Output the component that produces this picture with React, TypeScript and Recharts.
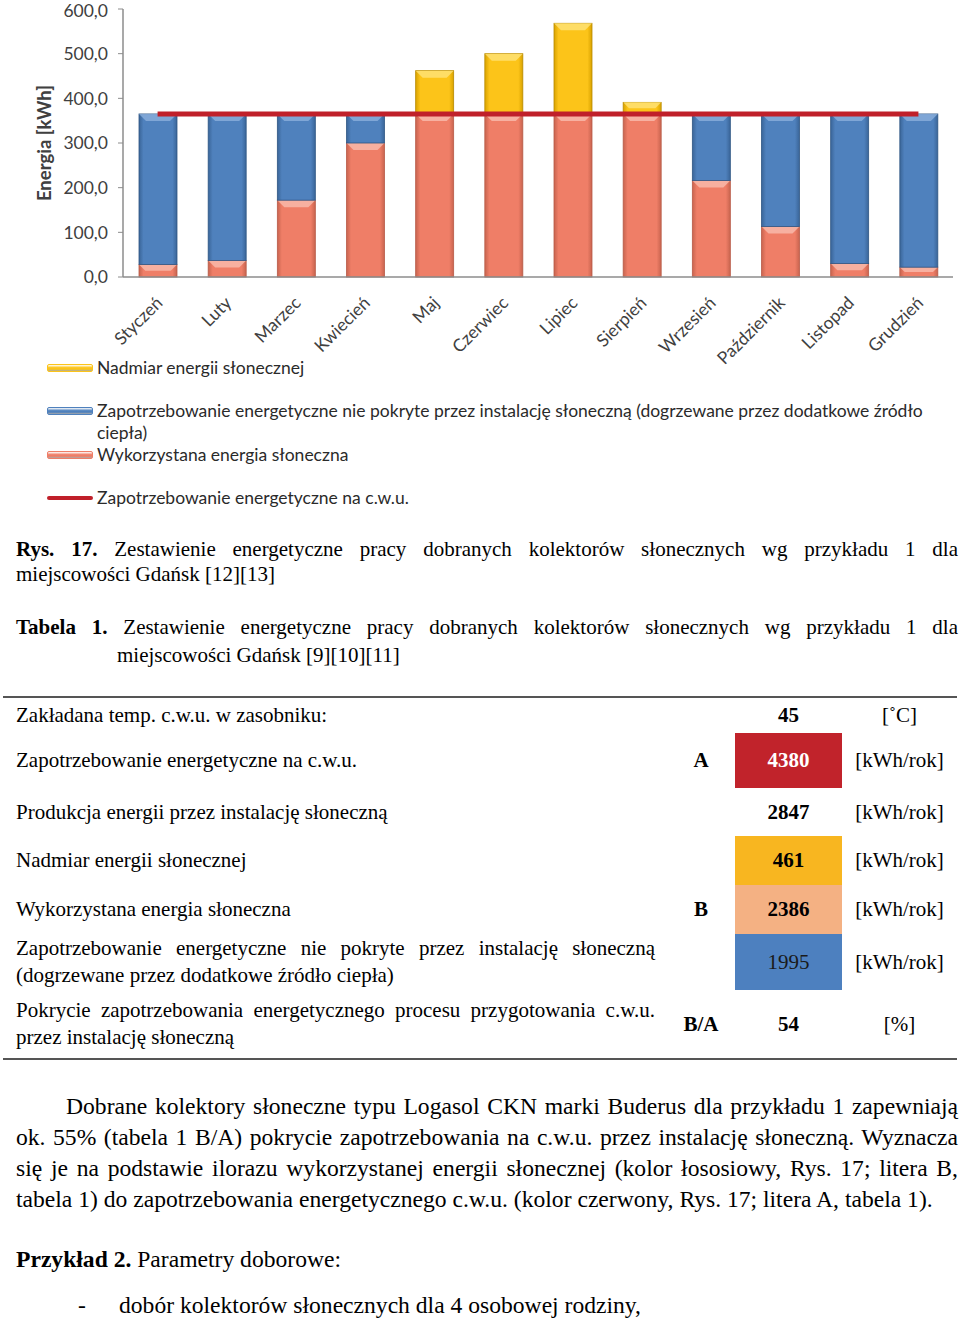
import { ComposedChart, Bar, Line, XAxis, YAxis } from 'recharts'

const months = ['Styczeń', 'Luty', 'Marzec', 'Kwiecień', 'Maj', 'Czerwiec', 'Lipiec', 'Sierpień', 'Wrzesień', 'Październik', 'Listopad', 'Grudzień']
const usedSolar = [28, 37, 172, 300, 365, 365, 365, 365, 216, 113, 30, 22]
const uncovered = [337, 328, 193, 65, 0, 0, 0, 0, 149, 252, 335, 343]
const excessSolar = [0, 0, 0, 0, 97, 135, 203, 26, 0, 0, 0, 0]
const demand = [365, 365, 365, 365, 365, 365, 365, 365, 365, 365, 365, 365]
const yTicks = [0, 100, 200, 300, 400, 500, 600]

const legendItems = [
  { key: 'excess', label: 'Nadmiar energii słonecznej', color: '#fcc419', kind: 'bar' },
  { key: 'uncovered', label: 'Zapotrzebowanie energetyczne nie pokryte przez instalację słoneczną (dogrzewane przez dodatkowe źródło ciepła)', color: '#4f81bd', kind: 'bar' },
  { key: 'used', label: 'Wykorzystana energia słoneczna', color: '#ef7e67', kind: 'bar' },
  { key: 'demand', label: 'Zapotrzebowanie energetyczne na c.w.u.', color: '#c0202a', kind: 'line' },
]

const tableRows = [
  { label: 'Zakładana temp. c.w.u. w zasobniku:', tag: '', value: '45', unit: '[˚C]', bg: '', fg: '#000', bold: true, h: 35 },
  { label: 'Zapotrzebowanie energetyczne na c.w.u.', tag: 'A', value: '4380', unit: '[kWh/rok]', bg: '#c1232b', fg: '#fff', bold: true, h: 55 },
  { label: 'Produkcja energii przez instalację słoneczną', tag: '', value: '2847', unit: '[kWh/rok]', bg: '', fg: '#000', bold: true, h: 48 },
  { label: 'Nadmiar energii słonecznej', tag: '', value: '461', unit: '[kWh/rok]', bg: '#f8b620', fg: '#000', bold: true, h: 49 },
  { label: 'Wykorzystana energia słoneczna', tag: 'B', value: '2386', unit: '[kWh/rok]', bg: '#f4b183', fg: '#000', bold: true, h: 49 },
  { label: 'Zapotrzebowanie energetyczne nie pokryte przez instalację słoneczną (dogrzewane przez dodatkowe źródło ciepła)', tag: '', value: '1995', unit: '[kWh/rok]', bg: '#4d80bf', fg: '#1a1a1a', bold: false, h: 56 },
  { label: 'Pokrycie zapotrzebowania energetycznego procesu przygotowania c.w.u. przez instalację słoneczną', tag: 'B/A', value: '54', unit: '[%]', bg: '', fg: '#000', bold: true, h: 68 },
]

const paragraphLines = [
  'Dobrane kolektory słoneczne typu Logasol CKN marki Buderus dla przykładu 1 zapewniają',
  'ok. 55% (tabela 1 B/A) pokrycie zapotrzebowania na c.w.u. przez instalację słoneczną. Wyznacza',
  'się je na podstawie ilorazu wykorzystanej energii słonecznej (kolor łososiowy, Rys. 17; litera B,',
  'tabela 1) do zapotrzebowania energetycznego c.w.u. (kolor czerwony, Rys. 17; litera A, tabela 1).',
]

const data = months.map((month, i) => ({
  month,
  used: usedSolar[i],
  uncovered: uncovered[i],
  excess: excessSolar[i],
  demand: demand[i],
}))

const chartFont = 'Lato, "Open Sans", sans-serif'
const serif = '"Liberation Serif", "Times New Roman", serif'

// bevelled bar like the old Excel style
function bevelBar(gradId: string, light: string, edge: string) {
  return (props: any) => {
    const { x, y, width, height } = props
    if (!height || height <= 0.5) return <g />
    const b = Math.min(7, height / 2)
    return (
      <g>
        <rect x={x} y={y} width={width} height={height} fill={`url(#${gradId})`} stroke={edge} strokeWidth={0.8} />
        <polygon
          points={`${x},${y} ${x + width},${y} ${x + width - b},${y + b} ${x + b},${y + b}`}
          fill={light}
          opacity={0.75}
        />
      </g>
    )
  }
}

function MonthTick({ x, y, payload }: any) {
  return (
    <g transform={`translate(${x + 6},${y + 19})`}>
      <text textAnchor="end" transform="rotate(-45)" fontSize={17.5} fill="#404040" fontFamily={chartFont}>
        {payload.value}
      </text>
    </g>
  )
}

function grad(id: string, edge: string, mid: string) {
  return (
    <linearGradient id={id} x1="0" y1="0" x2="1" y2="0">
      <stop offset="0%" stopColor={edge} />
      <stop offset="12%" stopColor={mid} />
      <stop offset="88%" stopColor={mid} />
      <stop offset="100%" stopColor={edge} />
    </linearGradient>
  )
}

function LegendIcon({ color, kind }: { color: string; kind: string }) {
  if (kind === 'line') {
    return <div style={{ width: 46, height: 4, background: color, borderRadius: 2, marginTop: 9, flex: 'none' }} />
  }
  return (
    <div
      style={{
        width: 46,
        height: 8,
        marginTop: 7,
        flex: 'none',
        borderRadius: 2,
        background: `linear-gradient(to bottom, #ffffffaa 0%, ${color} 45%, ${color} 70%, #00000055 100%)`,
        border: `1px solid ${color}`,
        boxSizing: 'border-box',
      }}
    />
  )
}

const justLine = { textAlign: 'justify' as const, textAlignLast: 'justify' as const, whiteSpace: 'nowrap' as const }

export default function App() {
  return (
    <div style={{ position: 'relative', width: 960, height: 1318, background: '#fff', fontFamily: serif, color: '#000' }}>
      <style>{'body{margin:0}'}</style>
      <div style={{ position: 'absolute', left: 0, top: 0 }}>
        <ComposedChart width={960} height={376} data={data} margin={{ top: 9, right: 7, bottom: 0, left: 0 }} barSize={38}>
          <defs>
            {grad('gBlue', '#3a6598', '#4f81bd')}
            {grad('gSalmon', '#c8644f', '#ef7e67')}
            {grad('gYellow', '#d9a300', '#fcc419')}
          </defs>
          <XAxis
            dataKey="month"
            interval={0}
            tick={<MonthTick />}
            tickLine={false}
            axisLine={{ stroke: '#8c8c8c', strokeWidth: 1.5 }}
            height={99}
          />
          <YAxis
            domain={[0, 600]}
            ticks={yTicks}
            width={123}
            tickSize={5}
            tickMargin={10}
            tickFormatter={(v: number) => v.toFixed(1).replace('.', ',')}
            tick={{ fontSize: 17.5, fill: '#404040', fontFamily: chartFont }}
            axisLine={{ stroke: '#8c8c8c', strokeWidth: 1.5 }}
            tickLine={{ stroke: '#8c8c8c' }}
            label={({ viewBox }: any) => (
              <text
                x={viewBox.x + 51}
                y={viewBox.y + viewBox.height / 2}
                transform={`rotate(-90, ${viewBox.x + 51}, ${viewBox.y + viewBox.height / 2})`}
                textAnchor="middle"
                fontSize={18.5}
                fontWeight="bold"
                fill="#404040"
                fontFamily={chartFont}
              >
                Energia [kWh]
              </text>
            )}
          />
          <Bar dataKey="used" stackId="e" shape={bevelBar('gSalmon', '#f9c2b3', '#b85a47')} isAnimationActive={false} />
          <Bar dataKey="uncovered" stackId="e" shape={bevelBar('gBlue', '#8fb3df', '#2f5684')} isAnimationActive={false} />
          <Bar dataKey="excess" stackId="e" shape={bevelBar('gYellow', '#ffe680', '#b88a00')} isAnimationActive={false} />
          <Line dataKey="demand" type="linear" stroke="#c0202a" strokeWidth={5} dot={false} activeDot={false} isAnimationActive={false} />
        </ComposedChart>
      </div>

      <div style={{ position: 'absolute', left: 47, top: 357, width: 900, fontFamily: chartFont, fontSize: 17.5, color: '#2a2a2a', lineHeight: '22px' }}>
        {legendItems.map((it, i) => (
          <div key={it.key} style={{ display: 'flex', marginTop: i === 1 || i === 3 ? 21 : 0 }}>
            <LegendIcon color={it.color} kind={it.kind} />
            <div style={{ marginLeft: 4, width: 850 }}>{it.label}</div>
          </div>
        ))}
      </div>

      <div style={{ position: 'absolute', left: 16, top: 537, width: 942, fontSize: 21, lineHeight: '25px' }}>
        <div style={justLine}>
          <b>Rys. 17.</b> Zestawienie energetyczne pracy dobranych kolektorów słonecznych wg przykładu 1 dla
        </div>
        <div>miejscowości Gdańsk [12][13]</div>
      </div>

      <div
        style={{
          position: 'absolute',
          left: 16,
          top: 613,
          width: 942,
          boxSizing: 'border-box',
          paddingLeft: 101,
          textIndent: -101,
          fontSize: 21,
          lineHeight: '28px',
          textAlign: 'justify',
        }}
      >
        <b>Tabela 1.</b> Zestawienie energetyczne pracy dobranych kolektorów słonecznych wg przykładu 1 dla miejscowości Gdańsk [9][10][11]
      </div>

      <div style={{ position: 'absolute', left: 3, top: 696, width: 954, borderTop: '2px solid #555', borderBottom: '2px solid #555', fontSize: 21 }}>
        {tableRows.map((r, i) => (
          <div key={i} style={{ display: 'grid', gridTemplateColumns: '664px 68px 107px 115px', height: r.h, alignItems: 'stretch' }}>
            <div style={{ display: 'flex', alignItems: 'center', padding: '0 12px 0 13px' }}>
              <div style={{ textAlign: 'justify', lineHeight: '27px', width: '100%' }}>{r.label}</div>
            </div>
            <div style={{ display: 'flex', alignItems: 'center', justifyContent: 'center', fontWeight: 'bold' }}>{r.tag}</div>
            <div
              style={{
                display: 'flex',
                alignItems: 'center',
                justifyContent: 'center',
                background: r.bg || 'transparent',
                color: r.fg,
                fontWeight: r.bold ? 'bold' : 'normal',
              }}
            >
              {r.value}
            </div>
            <div style={{ display: 'flex', alignItems: 'center', justifyContent: 'center' }}>{r.unit}</div>
          </div>
        ))}
      </div>

      <div style={{ position: 'absolute', left: 16, top: 1091, width: 942, fontSize: 23.6, lineHeight: '31px' }}>
        {paragraphLines.map((ln, i) => (
          <div
            key={i}
            style={i < paragraphLines.length - 1 ? { ...justLine, paddingLeft: i === 0 ? 50 : 0 } : { whiteSpace: 'nowrap' }}
          >
            {ln}
          </div>
        ))}
      </div>

      <div style={{ position: 'absolute', left: 16, top: 1244, fontSize: 23.6, lineHeight: '31px' }}>
        <b>Przykład 2.</b> Parametry doborowe:
      </div>

      <div style={{ position: 'absolute', left: 78, top: 1290, fontSize: 23.6, lineHeight: '31px', display: 'flex' }}>
        <span style={{ width: 41 }}>-</span>
        <span>dobór kolektorów słonecznych dla 4 osobowej rodziny,</span>
      </div>
    </div>
  )
}
